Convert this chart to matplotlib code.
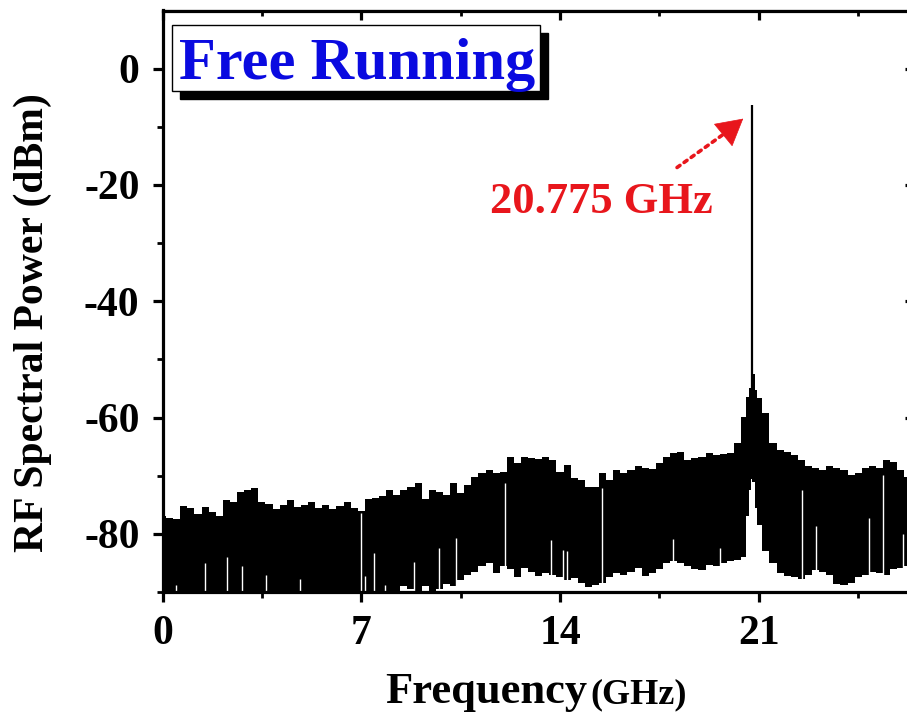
import numpy as np
import matplotlib
matplotlib.use("Agg")
import matplotlib.pyplot as plt
from matplotlib.patches import Rectangle

plt.rcParams['font.family'] = ['Liberation Serif', 'DejaVu Serif']
plt.rcParams['font.weight'] = 'bold'
plt.rcParams['axes.unicode_minus'] = False

# ---- RF spectrum of the free-running laser (envelope of the noisy trace) ----
freq_ghz = np.r_[np.arange(0.0, 20.26, 0.25),
                 [20.5, 20.6, 20.7, 20.74, 20.81, 20.9],
                 np.arange(21.0, 27.01, 0.25)]

trace_top_dbm = [
    -77.0, -77.3, -77.5, -75.2, -75.5, -76.6, -75.3, -76.2, -77.0, -74.2,
    -74.6, -72.8, -72.4, -72.2, -74.6, -74.8, -75.7, -75.0, -74.2, -75.3,
    -75.0, -74.6, -75.6, -75.0, -75.8, -75.2, -74.5, -75.6, -76.0, -74.0,
    -73.8, -73.5, -72.4, -73.3, -72.5, -71.9, -71.3, -74.0, -72.4, -72.8,
    -73.3, -71.3, -73.0, -71.6, -70.2, -69.6, -69.0, -69.5, -69.3, -66.7,
    -67.9, -66.7, -67.0, -67.2, -66.7, -67.3, -69.3, -68.1, -70.4, -70.7,
    -71.9, -71.9, -69.6, -70.7, -69.0, -69.5, -69.0, -68.4, -68.7, -68.9,
    -67.9, -66.8, -66.1, -65.9, -67.3, -66.9, -66.7, -66.1, -66.5, -66.3,
    -66.1, -64.4,
    -59.9, -56.4, -55.0, -52.5, -52.5, -55.3,
    -56.7, -59.3, -64.4, -65.6, -66.0, -66.5, -67.3, -68.4, -68.7, -69.0,
    -68.4, -68.7, -69.0, -69.8, -69.5, -68.6, -68.4, -68.7, -67.3, -67.6,
    -69.0, -70.2, -69.5, -68.8, -69.4,
]

trace_bottom_dbm = [
    -92.0, -92.0, -92.0, -92.0, -92.0, -92.0, -92.0, -92.0, -92.0, -92.0,
    -92.0, -92.0, -92.0, -92.0, -92.0, -92.0, -92.0, -92.0, -92.0, -92.0,
    -92.0, -92.0, -92.0, -92.0, -92.0, -92.0, -92.0, -92.0, -92.0, -92.0,
    -92.0, -92.0, -92.0, -92.0, -89.0, -89.5, -91.0, -89.0, -91.0, -89.5,
    -88.6, -89.0, -88.0, -87.0, -86.5, -85.5, -85.0, -86.7, -85.5, -86.0,
    -87.5, -85.8, -86.5, -87.2, -86.8, -87.0, -87.5, -88.0, -87.6, -88.5,
    -89.1, -88.8, -88.5, -87.5, -86.7, -87.0, -86.5, -85.8, -87.3, -86.7,
    -86.0, -85.0, -84.7, -85.0, -85.6, -86.0, -86.2, -85.3, -85.5, -85.0,
    -84.7, -84.5,
    -84.0, -77.0, -72.5, -70.5, -71.0, -75.5,
    -78.5, -83.0, -85.0, -86.7, -87.3, -87.5, -87.8, -87.0, -86.2, -86.5,
    -87.0, -88.7, -88.8, -88.5, -87.5, -87.0, -86.5, -86.8, -87.0, -86.0,
    -85.9, -85.5, -85.8, -86.2, -86.0,
]

# dropouts in the trace (frequency, highest level reached by the gap)
gap_freq_ghz = [0.48, 1.50, 2.26, 2.81, 3.64, 4.84, 6.99, 7.14, 7.46, 7.83,
                8.87, 9.75, 10.32, 12.06, 13.67, 14.09, 14.23, 15.48, 17.99,
                19.65, 22.51, 23.03, 24.89, 25.38, 26.08]
gap_top_dbm = [-88.8, -85.0, -83.9, -85.6, -87.0, -87.8, -76.5, -87.3, -83.3,
               -88.8, -84.8, -82.5, -80.7, -71.3, -81.0, -82.7, -83.0, -72.2,
               -80.9, -82.5, -72.4, -78.7, -77.3, -69.9, -80.0]

# beat note
peak_freq_ghz = 20.775
peak_dbm = -6.3
peak_base_dbm = -70.5
peak_label = "20.775 GHz"

x_ticks = [0, 7, 14, 21]
y_ticks = [0, -20, -40, -60, -80]
x_minor = [3.5, 10.5, 17.5, 24.5]
y_minor = [-10, -30, -50, -70, -90]

W, H = 907, 722
fig = plt.figure(figsize=(W / 100, H / 100), dpi=100)

ax_left, ax_right, ax_top, ax_bottom = 162.5, 915.0, 10.5, 592.0
ax = fig.add_axes([ax_left / W, 1 - ax_bottom / H,
                   (ax_right - ax_left) / W, (ax_bottom - ax_top) / H])

ax.fill_between(freq_ghz, trace_bottom_dbm, trace_top_dbm, step='mid',
                color='black', lw=0, zorder=1)
ax.vlines(gap_freq_ghz, -92, gap_top_dbm, colors='white', lw=1.0, zorder=1.5)
ax.vlines(peak_freq_ghz, peak_base_dbm, peak_dbm, colors='black', lw=1.6,
          zorder=1.6)

ax.set_xlim(0, 26.5)
ax.set_ylim(-90, 10)
ax.set_xticks(x_ticks)
ax.set_yticks(y_ticks)
ax.set_xticks(x_minor, minor=True)
ax.set_yticks(y_minor, minor=True)

for s in ax.spines.values():
    s.set_linewidth(2.3)

ax.tick_params(axis='both', which='major', direction='out', length=7.5,
               width=2.3, labelsize=30, pad=9)
ax.tick_params(axis='both', which='minor', direction='out', length=4,
               width=2.0)

# mirrored ticks pointing inward on the top and right frames
top = ax.secondary_xaxis('top')
top.set_xticks(x_ticks)
top.set_xticks(x_minor, minor=True)
top.tick_params(which='major', direction='in', length=7.5, width=2.3,
                labeltop=False)
top.tick_params(which='minor', direction='in', length=4, width=2.0)
right = ax.secondary_yaxis('right')
right.set_yticks(y_ticks)
right.set_yticks(y_minor, minor=True)
right.tick_params(which='major', direction='in', length=7.5, width=2.3,
                  labelright=False)
right.tick_params(which='minor', direction='in', length=4, width=2.0)

# axis titles
fig.text(33 / W, 1 - 323 / H, "RF Spectral Power (dBm)", rotation=90,
         ha='center', va='center', fontsize=30, fontweight='bold')
fig.text(385 / W, 1 - 703 / H, "Frequency", ha='left', va='baseline',
         fontsize=32, fontweight='bold')
fig.text(590 / W, 1 - 703 / H, "(GHz)", ha='left', va='baseline',
         fontsize=26, fontweight='bold')

# "Free Running" panel tag with drop shadow
bx0, by0, bx1, by1 = 172.0, 25.0, 540.0, 91.0
sh = 8.0
fig.patches.append(Rectangle(((bx0 + sh) / W, 1 - (by1 + sh) / H),
                             (bx1 - bx0) / W, (by1 - by0) / H,
                             transform=fig.transFigure, facecolor='black',
                             edgecolor='black', zorder=5))
fig.patches.append(Rectangle((bx0 / W, 1 - by1 / H),
                             (bx1 - bx0) / W, (by1 - by0) / H,
                             transform=fig.transFigure, facecolor='white',
                             edgecolor='black', lw=1.0, zorder=6))
fig.text(357 / W, 1 - 79.5 / H, "Free Running", ha='center', va='baseline',
         fontsize=43.5, fontweight='bold', color='#0a0ae0', zorder=7)

# peak annotation: dotted shaft plus solid arrow head
red = '#e8161c'
ax.text(11.53, -24.9, peak_label, ha='left', va='baseline', fontsize=32,
        fontweight='bold', color=red)
tail = (18.12, -17.0)
neck = (19.95, -10.6)
tip = (20.45, -8.6)
ax.plot([tail[0], neck[0]], [tail[1], neck[1]], color=red, lw=2.6,
        linestyle=(0, (1, 1.4)), solid_capstyle='round',
        dash_capstyle='round')
ax.annotate('', xy=tip, xytext=neck,
            arrowprops=dict(arrowstyle='-|>,head_length=0.9,head_width=0.5',
                            color=red, lw=0.5, shrinkA=0, shrinkB=0,
                            mutation_scale=20))

fig.savefig('out.png', dpi=100)
